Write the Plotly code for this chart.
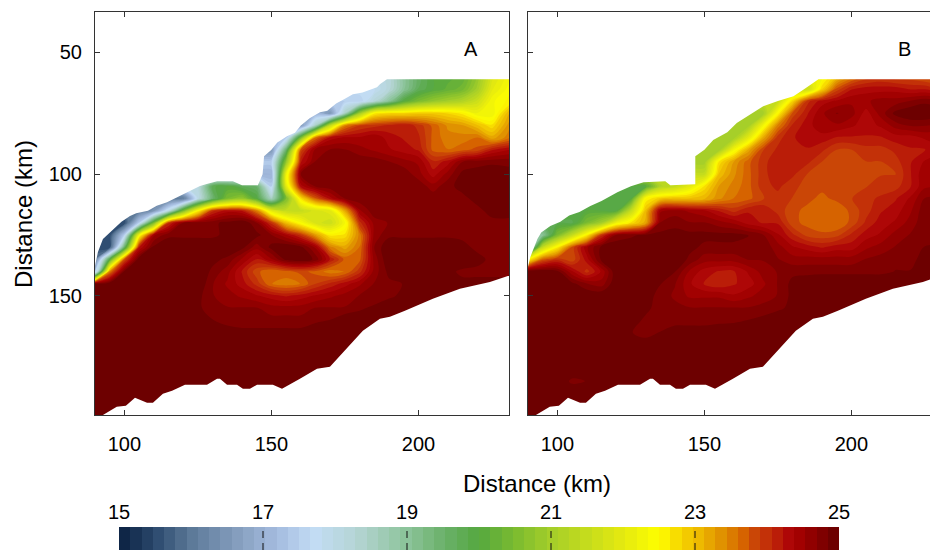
import numpy as np
import plotly.graph_objects as go

x_km = [90,95,100,105,110,115,120,125,130,135,140,145,150,155,160,165,170,175,180,185,190,195,200,205,210,215,220,225,232]
y_km = [60,65,70,75,80,85,90,95,100,105,110,115,120,125,130,135,140,145,150,155,160,165,170,175,180,185,190,195,200]

temp_a = [
[18,18,18,18,18,18,18,18,18,18,18,18,18,18,18,18,18,18,18,18,18.2,19,19.6,20,20.1,20.2,20.8,21.8,22.4],
[17.8,17.8,17.8,17.8,17.8,17.8,17.8,17.8,17.8,17.8,17.8,17.8,17.8,17.8,17.8,17.8,17.8,17.8,17.8,17.8,18.2,19,19.7,20,20.2,20.4,21,22,22.5],
[17.5,17.5,17.5,17.5,17.5,17.5,17.5,17.5,17.5,17.5,17.5,17.5,17.5,17.5,17.5,17.5,17.5,17.5,17.5,18.2,19,20,20.5,20.8,21,21.2,21.6,22.3,22.6],
[17,17,17,17,17,17,17,17,17,17,17,17,17,17,17,17,16.5,18.5,21,22.6,22.8,22.8,22.9,22.9,22.8,22.6,22.2,22.2,23.3],
[16.5,16.5,16.5,16.5,16.5,16.5,16.5,16.5,16.5,16.5,16.5,16.5,16.5,16.5,16.5,18.5,21.5,23.5,23.9,24,24.1,24.2,24,23.7,23.4,23.3,23,22.7,23.5],
[17,17,17,17,17,17,17,17,17,17,17,17,17,17.5,20.5,23.6,24.3,24.4,24.4,24.5,24.3,24.2,24.1,23.7,23.5,23.5,23.6,23.2,23.6],
[16.5,16.5,16.5,16.5,16.5,16.5,16.5,16.5,16.5,16.5,16.5,16.5,16.5,19.5,23.8,24.6,24.7,24.7,24.6,24.5,24.4,24.3,24.2,23.7,23.6,23.7,23.8,24.2,24.4],
[17.5,17.5,17.5,17.5,17.5,17.5,17.5,17.5,17.5,17.5,17.5,17.5,17.5,20.8,24.2,24.7,24.8,24.8,24.8,24.8,24.7,24.6,24.5,24.1,24.3,24.7,24.8,24.8,24.8],
[17,17,17,17,17,17,17,17,17,17,17,17,17,22.2,24.7,24.8,24.8,24.8,24.8,24.8,24.8,24.8,24.6,24.3,24.6,24.9,24.9,25,24.9],
[18,18,18,18,18,18,18,18,19.8,20,19.7,19.5,17.5,22,24.3,24.7,24.8,24.8,24.8,24.8,24.8,24.8,24.8,24.6,24.8,24.9,24.9,25,24.9],
[16,16,16,16,16,16,16,18,19.5,20.5,20.8,20,18.5,20.5,22.7,23.7,24.3,24.7,24.8,24.8,24.8,24.8,24.8,24.8,24.8,24.8,24.9,24.9,24.9],
[16,16,16,16,16.5,18,20.5,22.5,24,24.3,24.2,23.5,22,21.5,21.5,21.8,22,23.2,24.5,24.8,24.8,24.8,24.8,24.8,24.8,24.8,24.8,24.9,24.9],
[15.5,15.5,15.5,17.5,20.5,24,24.7,24.8,24.8,24.9,25,24.7,24,23,22.4,21.8,21.6,22.3,24,24.6,24.7,24.7,24.8,24.8,24.8,24.8,24.8,24.8,24.8],
[15.5,15.5,17.5,22.3,24.5,24.8,24.8,24.8,24.8,24.9,25,24.9,24.7,24.4,24,23.3,22.6,22.7,23.5,24.6,24.8,24.8,24.8,24.8,24.8,24.8,24.8,24.8,24.8],
[15.5,15.5,19.5,24.2,24.9,25,25,25,25,25,24.9,24.6,24.9,25,24.9,24.5,23.5,23.2,23.6,24.7,25,25,25,25,25,24.9,24.8,24.8,24.8],
[16,20,23.8,25,25,25,25,25,24.9,24.8,24.5,24.2,24.5,24.9,25,24.8,24.2,23.7,23.7,24.6,25,25,25,25,25,25,24.9,24.8,24.8],
[17,23.5,24.9,25,25,25,25,25,24.8,24.6,24.2,23.8,23.6,23.7,23.8,23.7,23.5,23.6,24,24.6,24.9,24.9,24.9,24.9,24.9,24.8,24.8,24.8,24.8],
[25,25,25,25,25,25,25,25,24.7,24.5,24.3,24,23.6,23.5,23.6,23.9,24.1,24.3,24.5,24.7,24.8,24.85,24.9,24.9,24.9,24.9,24.9,24.9,24.9],
[25,25,25,25,25,25,25,24.9,24.7,24.6,24.5,24.4,24.3,24.2,24.3,24.4,24.5,24.6,24.7,24.7,24.8,24.9,25,25,25,25,25,25,25],
[25,25,25,25,25,25,25,24.9,24.7,24.7,24.7,24.7,24.6,24.6,24.6,24.7,24.7,24.7,24.8,24.9,25,25,25,25,25,25,25,25,25],
[25,25,25,25,25,25,25,25,24.85,24.8,24.75,24.75,24.75,24.75,24.75,24.8,24.85,25,25,25,25,25,25,25,25,25,25,25,25],
[25,25,25,25,25,25,25,25,25,24.9,24.9,24.9,24.9,24.9,24.9,25,25,25,25,25,25,25,25,25,25,25,25,25,25],
[25,25,25,25,25,25,25,25,25,25,25,25,25,25,25,25,25,25,25,25,25,25,25,25,25,25,25,25,25],
[25,25,25,25,25,25,25,25,25,25,25,25,25,25,25,25,25,25,25,25,25,25,25,25,25,25,25,25,25],
[25,25,25,25,25,25,25,25,25,25,25,25,25,25,25,25,25,25,25,25,25,25,25,25,25,25,25,25,25],
[25,25,25,25,25,25,25,25,25,25,25,25,25,25,25,25,25,25,25,25,25,25,25,25,25,25,25,25,25],
[25,25,25,25,25,25,25,25,25,25,25,25,25,25,25,25,25,25,25,25,25,25,25,25,25,25,25,25,25],
[25,25,25,25,25,25,25,25,25,25,25,25,25,25,25,25,25,25,25,25,25,25,25,25,25,25,25,25,25],
[25,25,25,25,25,25,25,25,25,25,25,25,25,25,25,25,25,25,25,25,25,25,25,25,25,25,25,25,25],
]

temp_b = [
[22,22,22,22,22,22,22,22,22,22,22,22,22,22,22,22,22,22,22,22,22.3,23,23.5,23.8,23.9,23.8,23.8,23.7,23.5],
[21.5,21.5,21.5,21.5,21.5,21.5,21.5,21.5,21.5,21.5,21.5,21.5,21.5,21.5,21.5,21.5,21.5,21.5,21.5,21.5,22.8,23.8,24.2,24.3,24.3,24.3,24.2,24.2,24],
[21.5,21.5,21.5,21.5,21.5,21.5,21.5,21.5,21.5,21.5,21.5,21.5,21.5,21.5,21.5,21.5,21.5,21.5,22.8,24,24.3,24.4,24.5,24.5,24.6,24.6,24.7,24.8,24.7],
[21,21,21,21,21,21,21,21,21,21,21,21,21,21,21,21,21,22.5,23.8,24.2,24.5,24.7,24.6,24.3,24.6,24.9,25,25,24.9],
[21,21,21,21,21,21,21,21,21,21,21,21,21,21,21,21,22.3,23.5,24.1,24.3,24.5,24.5,24.4,24.3,24.4,24.6,24.7,24.7,24.6],
[21,21,21,21,21,21,21,21,21,21,21,21,21,21,21,22,23.2,24,24.2,24.3,24.3,24.2,24.2,24.2,24.2,24.3,24.3,24.4,24.4],
[21,21,21,21,21,21,21,21,21,21,21,21,21,21,22.3,23.2,23.9,24.1,24.2,24.2,24.1,23.9,23.9,24,24,24.1,24.2,24.2,24.4],
[21,21,21,21,21,21,21,21,21,21,21,21,21,22.7,23.3,23.7,24,24.2,24.2,24.1,23.9,23.9,23.9,23.9,23.9,24,24.2,24.4,24.4],
[21.5,21.5,21.5,21.5,21.5,21.5,21.5,21.5,21.5,21.5,21.5,21.5,21.5,23,23.4,23.7,24,24.2,24.1,23.9,23.9,23.9,23.9,23.9,23.9,23.9,24.2,24.5,24.5],
[20,20,20,20,20,20,20,20,20,21.2,21.5,22,22.7,23.3,23.5,23.7,24,24.1,23.95,23.85,23.8,23.85,23.9,23.9,23.95,24,24.2,24.5,24.5],
[20,20,20,20,20,20,20,20,22.5,22.9,23,23,23.1,23.4,23.6,23.7,23.9,24,23.9,23.8,23.7,23.8,23.9,24,24.1,24.2,24.4,24.7,24.7],
[20,20,20,20,20,20,20,21.5,23,24.5,24.6,24.5,24.4,24.2,24,24.2,24.2,24,23.8,23.7,23.6,23.6,23.8,24,24.2,24.3,24.5,24.8,24.8],
[19.8,19.8,19.8,19.8,20.5,21,22.2,22.7,23.2,24.7,24.8,24.7,24.7,24.6,24.5,24.3,24.2,24.2,23.8,23.7,23.6,23.6,23.8,24.1,24.3,24.4,24.6,24.8,24.8],
[19,19,20.5,21.5,22.6,24,24.7,24.8,24.9,24.9,24.9,24.9,24.9,24.9,24.9,24.85,24.7,24.4,24.1,23.85,23.8,23.85,24.1,24.3,24.4,24.6,24.7,24.8,24.8],
[18,21.5,22.6,23.8,24.5,24.9,25,25,25,25,25,24.9,24.8,24.8,24.8,24.8,24.8,24.6,24.4,24.3,24.2,24.3,24.3,24.5,24.6,24.7,24.75,24.85,24.85],
[22.5,23.7,24,23.8,24.3,24.9,25,25,25,25,25,24.8,24.6,24.6,24.6,24.7,24.7,24.7,24.6,24.6,24.6,24.6,24.6,24.7,24.75,24.8,24.8,24.9,24.9],
[25,25,24.9,24.4,24,24.4,25,25,25,25,24.85,24.5,24.3,24.2,24.2,24.4,24.6,24.7,24.8,24.8,24.8,24.8,24.8,24.8,24.8,24.85,24.85,24.85,24.85],
[25,25,25,24.9,24.7,24.6,25,25,24.95,24.85,24.7,24.4,24.2,24.1,24.2,24.3,24.5,24.7,24.9,24.95,25,25,25,25,25,25,25,25,25],
[25,25,25,25,25,25,25,25,24.9,24.8,24.65,24.5,24.5,24.5,24.4,24.5,24.6,24.7,24.9,25,25,25,25,25,25,25,25,25,25],
[25,25,25,25,25,25,25,25,24.9,24.75,24.75,24.7,24.7,24.7,24.7,24.7,24.75,24.8,24.9,25,25,25,25,25,25,25,25,25,25],
[25,25,25,25,25,25,25,24.95,24.8,24.75,24.8,24.8,24.8,24.8,24.8,24.85,24.9,25,25,25,25,25,25,25,25,25,25,25,25],
[25,25,25,25,25,25,25,24.85,24.8,24.85,24.9,24.9,24.9,24.95,25,25,25,25,25,25,25,25,25,25,25,25,25,25,25],
[25,25,25,25,25,25,25,25,24.9,25,25,25,25,25,25,25,25,25,25,25,25,25,25,25,25,25,25,25,25],
[25,25,25,25,25,25,25,25,25,25,25,25,25,25,25,25,25,25,25,25,25,25,25,25,25,25,25,25,25],
[25,25,25,25,25,25,25,25,25,25,25,25,25,25,25,25,25,25,25,25,25,25,25,25,25,25,25,25,25],
[25,25,25,24.8,24.85,25,25,25,25,25,25,25,25,25,25,25,25,25,25,25,25,25,25,25,25,25,25,25,25],
[25,25,25,25,25,25,25,25,25,25,25,25,25,25,25,25,25,25,25,25,25,25,25,25,25,25,25,25,25],
[25,25,25,25,25,25,25,25,25,25,25,25,25,25,25,25,25,25,25,25,25,25,25,25,25,25,25,25,25],
[25,25,25,25,25,25,25,25,25,25,25,25,25,25,25,25,25,25,25,25,25,25,25,25,25,25,25,25,25],
]

coast_a_x = [90,91,92.7,95,97,99,101.9,104,108,111,114.5,118,122,125.7,128,131.5,136.9,140,145.4,147,147.5,150,152,155.3,158,160,163,166.5,169,172,175,177.7,181,185.9,187,189.3]
coast_a_y = [137.7,132,126.6,124,122,119.5,117.2,116,115,113,111.5,109.5,107,104.9,104,102.9,102.9,104.5,104.5,100,92.6,90,87,84.4,83,80,77,74.6,74,71,69,67.2,66.5,64.3,63,61]
coast_b_x = [90,90.8,93.2,94.5,97.6,101,104,107.5,111.2,115,120.4,125,129.3,136.7,138.4,146.9,146.9,150,153,157.8,161,165,170,175,180.3,184,188.8]
coast_b_y = [138,134,126.6,124,121.3,119.5,117,115.5,113.1,111,107.4,105,103.3,102.9,104.5,104.1,92.6,90,86,82.8,79,76,72.1,70,68,65,61]
south_x = [90,92.7,97.4,100.5,103.6,107.7,109.7,113.1,116.2,120.6,128.1,131.5,132.5,134.9,138.3,140.3,142.7,145.1,150.5,153.6,159.7,165.5,169.9,181.1,186.9,190.3,195.4,204.9,214.1,224.3,230.4]
south_y = [198.9,198.9,195.5,195.1,191.8,193.9,193.9,190.2,188.9,186.5,186.5,184,184,186.5,186.5,188.1,188.1,186.5,186.5,188.1,184,179.9,179.1,164.3,159.4,158.6,156.1,151.2,147.1,144.3,141.8]

ramp_values = [15,15.5,16,16.8,17.2,17.7,18.3,19,19.5,20,20.5,21,22,22.5,22.8,23,23.38,23.65,23.86,24.07,24.28,24.48,24.69,25]
ramp_colors = ["#0a2040","#2c4a6e","#5d7a99","#8fa8c8","#a5bce0","#c3ddf5","#b5d5d5","#8cc49a","#6cb26c","#55a840","#7cbc30","#a5cf2a","#e5ea10","#ffff00","#f7d400","#f0c000","#e09000","#d86800","#c84008","#c02808","#b00808","#a00000","#880000","#640000"]
cbar_ticks = [15,17,19,21,23,25]
x_ticks = [100,150,200]
y_ticks = [50,100,150]

def rgb(h):
    return [int(h[i:i+2],16) for i in (1,3,5)]
N = 64
centres = np.linspace(15,25,N,endpoint=False)+10/N/2
arr = np.array([rgb(c) for c in ramp_colors],float)
cols = ["rgb(%d,%d,%d)"%tuple(np.interp(v,ramp_values,arr[:,k]) for k in range(3)) for v in centres]
scale = []
for i,c in enumerate(cols):
    scale += [[i/N,c],[(i+1)/N,c]]

W,H = 930,550
FONT = "Liberation Sans"
TOP_Y = 33.4; BOT_Y = 198.9

fig = go.Figure()
def panel(z, cx, cy, xa, ya):
    fig.add_trace(go.Contour(x=x_km,y=y_km,z=z,zmin=15,zmax=25,colorscale=scale,showscale=False,autocontour=False,
        contours=dict(start=15,end=25,size=10/N,coloring="fill",showlines=False),line=dict(width=0,smoothing=1.0),xaxis=xa,yaxis=ya))
    fig.add_trace(go.Scatter(x=[90]+cx+[232,232,90,90],y=[cy[0]]+cy+[61,30,30,cy[0]],mode="lines",fill="toself",fillcolor="white",line=dict(width=0),hoverinfo="skip",showlegend=False,xaxis=xa,yaxis=ya))
    fig.add_trace(go.Scatter(x=south_x+[232,232,90,90],y=south_y+[south_y[-1],202,202,south_y[0]],mode="lines",fill="toself",fillcolor="white",line=dict(width=0),hoverinfo="skip",showlegend=False,xaxis=xa,yaxis=ya))
panel(temp_a,coast_a_x,coast_a_y,"x","y")
panel(temp_b,coast_b_x,coast_b_y,"x2","y2")
fig.add_trace(go.Heatmap(x=centres,y=[0,1],z=[centres,centres],zmin=15,zmax=25,colorscale=scale,showscale=False,xaxis="x3",yaxis="y3"))

axc = "#333333"
tf = dict(family=FONT,size=20,color="#000")
tt = dict(family=FONT,size=24,color="#000")
common = dict(showgrid=False,zeroline=False,showline=True,linecolor=axc,linewidth=1,ticks="inside",ticklen=5,tickcolor=axc,tickfont=tf,layer="above traces")
yd = [(H-415)/H,(H-12)/H]
layout = dict(
    width=W,height=H,margin=dict(l=0,r=0,t=0,b=0,autoexpand=False),paper_bgcolor="white",plot_bgcolor="white",showlegend=False,
    font=dict(family=FONT,color="#000"),
    xaxis=dict(domain=[95/W,509/W],range=[90,230.8],tickvals=x_ticks,mirror="allticks",anchor="y",ticklabelstandoff=11,**common),
    yaxis=dict(domain=yd,range=[BOT_Y,TOP_Y],tickvals=y_ticks,mirror="allticks",anchor="x",ticklabelstandoff=8,**common),
    xaxis2=dict(domain=[528/W,1],range=[90,226.73],tickvals=x_ticks,mirror="ticks",anchor="y2",ticklabelstandoff=11,**common),
    yaxis2=dict(domain=yd,range=[BOT_Y,TOP_Y],tickvals=y_ticks,showticklabels=False,anchor="x2",**common),
    xaxis3=dict(domain=[119/W,839/W],range=[15,25],tickvals=cbar_ticks,side="top",anchor="y3",showgrid=False,zeroline=False,showline=False,ticks="",tickfont=tf,ticklabelstandoff=3),
    yaxis3=dict(domain=[0,23/H],range=[0,1],showticklabels=False,ticks="",showgrid=False,zeroline=False,showline=False,anchor="x3"),
    annotations=[
        dict(text="A",xref="x",yref="y",x=218,y=48.6,showarrow=False,font=dict(family=FONT,size=20,color="#000")),
        dict(text="B",xref="x2",yref="y2",x=218,y=48.6,showarrow=False,font=dict(family=FONT,size=20,color="#000")),
        dict(text="Distance (km)",xref="paper",yref="paper",x=537/W,y=(H-483)/H,xanchor="center",yanchor="middle",showarrow=False,font=tt),
        dict(text="Distance (km)",xref="paper",yref="paper",x=24/W,y=(H-214)/H,xanchor="center",yanchor="middle",textangle=-90,showarrow=False,font=tt),
    ],
    shapes=[dict(type="line",xref="x3",yref="y3",x0=t,x1=t,y0=0,y1=1,line=dict(color="#111",width=1,dash="7px,5px")) for t in cbar_ticks[1:-1]],
)
fig.update_layout(**layout)
fig.write_html("out.html",post_script="document.body.style.margin='0';",config=dict(displayModeBar=False))
